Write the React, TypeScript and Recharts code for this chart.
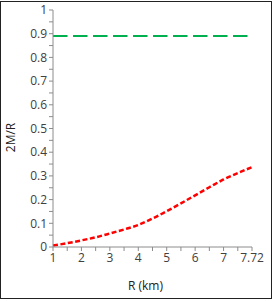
import { Line, LineChart, ReferenceLine, XAxis, YAxis, Label } from "recharts";

// R (km) categories and compactness 2M/R
const radius = ["1", "1.5", "2", "2.5", "3", "3.5", "4", "4.5", "5", "5.5", "6", "6.5", "7", "7.5", "7.72"];
const compactness = [0.006, 0.016, 0.028, 0.041, 0.057, 0.074, 0.093, 0.12, 0.151, 0.184, 0.218, 0.252, 0.285, 0.312, 0.337];
const limitValue = 0.89;

const yTicks = [0, 0.05, 0.1, 0.15, 0.2, 0.25, 0.3, 0.35, 0.4, 0.45, 0.5, 0.55, 0.6, 0.65, 0.7, 0.75, 0.8, 0.85, 0.9, 0.95, 1];

const data = radius.map((r, i) => ({ r, v: compactness[i] }));

const FONT = "'Open Sans', sans-serif";
const AXIS = "#8c8c8c";

export default function App() {
  return (
    <div style={{ position: "relative", width: 273, height: 301, background: "#fff", fontFamily: FONT }}>
      <style>{"body{margin:0}"}</style>
      <div
        style={{
          position: "absolute",
          left: 0,
          top: 1,
          width: 272,
          height: 298,
          boxSizing: "border-box",
          border: "1px solid #222",
          pointerEvents: "none",
        }}
      />
      <LineChart width={273} height={301} data={data} margin={{ top: 10, right: 21, left: 18, bottom: 24 }}>
        <XAxis
          dataKey="r"
          type="category"
          interval={0}
          height={30}
          tickFormatter={(v: string, i: number) => (i % 2 === 0 ? v : "")}
          tick={{ fill: "#404040", fontSize: 12, fontFamily: FONT }}
          tickSize={4}
          stroke={AXIS}
          tickLine={{ stroke: AXIS }}
        >
          <Label value="R (km)" position="insideBottom" offset={-13} dx={-7} fill="#202020" fontSize={12} fontFamily={FONT} />
        </XAxis>
        <YAxis
          type="number"
          domain={[0, 1]}
          ticks={yTicks}
          interval={0}
          width={35}
          tickFormatter={(v: number) => (Math.round(v * 100) % 10 === 0 ? String(Math.round(v * 10) / 10) : "")}
          tick={{ fill: "#404040", fontSize: 12, fontFamily: FONT }}
          tickSize={4}
          stroke={AXIS}
          tickLine={{ stroke: AXIS }}
        >
          <Label
            content={(props: any) => {
              const vb = props.viewBox || { x: 18, y: 10, height: 237 };
              const cx = vb.x - 8;
              const cy = vb.y + vb.height / 2 + 9;
              return (
                <text
                  x={cx}
                  y={cy}
                  transform={`rotate(-90, ${cx}, ${cy})`}
                  textAnchor="middle"
                  dominantBaseline="central"
                  fill="#202020"
                  fontSize={12}
                  fontFamily={FONT}
                >
                  2M/R
                </text>
              );
            }}
          />
        </YAxis>
        <ReferenceLine y={limitValue} stroke="#00b050" strokeWidth={2} strokeDasharray="14.5 5.5" />
        <Line
          type="monotone"
          dataKey="v"
          stroke="#ff0000"
          strokeWidth={2.5}
          strokeDasharray="5 2.5"
          dot={false}
          isAnimationActive={false}
        />
      </LineChart>
    </div>
  );
}
